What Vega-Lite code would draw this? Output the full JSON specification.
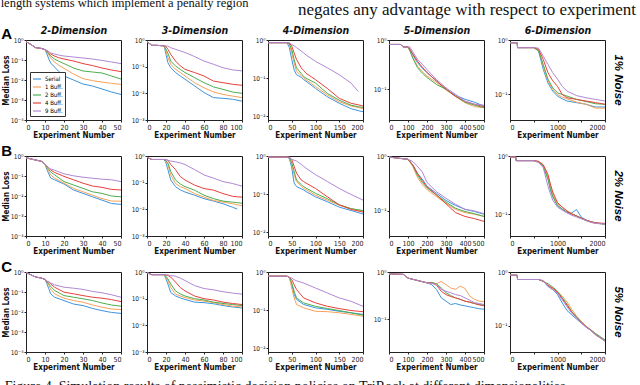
{
"$schema": "https://vega.github.io/schema/vega-lite/v6.json",
"padding": {"left": 0, "top": -3, "right": 1, "bottom": -8},
"datasets": {
"dA1": [
{"x":0,"S":0.832,"B1":0.832,"B2":0.832,"B4":0.832,"B9":0.832},
{"x":3,"S":0.562,"B1":0.562,"B2":0.562,"B4":0.562,"B9":0.562},
{"x":5,"S":0.417,"B1":0.417,"B2":0.417,"B4":0.417,"B9":0.417},
{"x":8,"S":0.38,"B1":0.38,"B2":0.38,"B4":0.38,"B9":0.38},
{"x":10,"S":0.331,"B1":0.331,"B2":0.331,"B4":0.331,"B9":0.331},
{"x":11,"S":0.2,"B1":0.251,"B2":0.263,"B4":0.282,"B9":0.302},
{"x":12,"S":0.112,"B1":0.178,"B2":0.209,"B4":0.24,"B9":0.263},
{"x":13,"S":0.0708,"B1":0.126,"B2":0.158,"B4":0.2,"B9":0.224},
{"x":15,"S":0.0447,"B1":0.0794,"B2":0.112,"B4":0.158,"B9":0.2},
{"x":17,"S":0.0282,"B1":0.0562,"B2":0.0891,"B4":0.132,"B9":0.178},
{"x":20,"S":0.0158,"B1":0.038,"B2":0.0661,"B4":0.112,"B9":0.158},
{"x":25,"S":0.01,"B1":0.02,"B2":0.0398,"B4":0.0891,"B9":0.141},
{"x":30,"S":0.0063,"B1":0.0117,"B2":0.0282,"B4":0.0661,"B9":0.126},
{"x":35,"S":0.005,"B1":0.0093,"B2":0.0251,"B4":0.0525,"B9":0.112},
{"x":40,"S":0.00355,"B1":0.0079,"B2":0.0224,"B4":0.0398,"B9":0.0955},
{"x":45,"S":0.00251,"B1":0.0068,"B2":0.0158,"B4":0.0316,"B9":0.0794},
{"x":50,"S":0.0019,"B1":0.006,"B2":0.0112,"B4":0.0263,"B9":0.0661}
],
"dA2": [
{"x":0,"S":0.871,"B1":0.871,"B2":0.871,"B4":0.871,"B9":0.871},
{"x":5,"S":0.631,"B1":0.631,"B2":0.631,"B4":0.631,"B9":0.631},
{"x":10,"S":0.631,"B1":0.631,"B2":0.631,"B4":0.631,"B9":0.631},
{"x":18,"S":0.603,"B1":0.603,"B2":0.603,"B4":0.603,"B9":0.603},
{"x":20,"S":0.288,"B1":0.389,"B2":0.447,"B4":0.562,"B9":0.603},
{"x":22,"S":0.141,"B1":0.219,"B2":0.316,"B4":0.447,"B9":0.589},
{"x":25,"S":0.0912,"B1":0.123,"B2":0.162,"B4":0.288,"B9":0.513},
{"x":30,"S":0.0603,"B1":0.0794,"B2":0.107,"B4":0.162,"B9":0.447},
{"x":35,"S":0.0447,"B1":0.0603,"B2":0.0794,"B4":0.107,"B9":0.389},
{"x":40,"S":0.0339,"B1":0.0447,"B2":0.0603,"B4":0.0794,"B9":0.339},
{"x":50,"S":0.0191,"B1":0.0251,"B2":0.0389,"B4":0.0603,"B9":0.24},
{"x":60,"S":0.0107,"B1":0.0162,"B2":0.0251,"B4":0.0447,"B9":0.162},
{"x":70,"S":0.0069,"B1":0.0112,"B2":0.0174,"B4":0.0288,"B9":0.123},
{"x":80,"S":0.0065,"B1":0.0091,"B2":0.0141,"B4":0.0251,"B9":0.0912},
{"x":90,"S":0.006,"B1":0.0079,"B2":0.0112,"B4":0.0219,"B9":0.0759},
{"x":100,"S":0.0051,"B1":0.0069,"B2":0.01,"B4":0.02,"B9":0.0692}
],
"dA3": [
{"x":0,"S":0.851,"B1":0.851,"B2":0.851,"B4":0.851,"B9":0.851},
{"x":20,"S":0.851,"B1":0.851,"B2":0.851,"B4":0.851,"B9":0.851},
{"x":40,"S":0.851,"B1":0.851,"B2":0.851,"B4":0.851,"B9":0.851},
{"x":45,"S":0.631,"B1":0.759,"B2":0.794,"B4":0.832,"B9":0.851},
{"x":50,"S":0.309,"B1":0.457,"B2":0.562,"B4":0.692,"B9":0.759},
{"x":55,"S":0.166,"B1":0.251,"B2":0.309,"B4":0.457,"B9":0.708},
{"x":60,"S":0.123,"B1":0.151,"B2":0.186,"B4":0.309,"B9":0.631},
{"x":70,"S":0.105,"B1":0.117,"B2":0.132,"B4":0.186,"B9":0.513},
{"x":75,"S":0.0912,"B1":0.1,"B2":0.11,"B4":0.158,"B9":0.457},
{"x":80,"S":0.0832,"B1":0.0912,"B2":0.1,"B4":0.135,"B9":0.407},
{"x":100,"S":0.0537,"B1":0.0603,"B2":0.0741,"B4":0.0912,"B9":0.275},
{"x":125,"S":0.0324,"B1":0.0363,"B2":0.0398,"B4":0.0537,"B9":0.186},
{"x":150,"S":0.0219,"B1":0.024,"B2":0.0263,"B4":0.0295,"B9":0.123},
{"x":175,"S":0.0158,"B1":0.0186,"B2":0.0195,"B4":0.0219,"B9":0.0741},
{"x":190,"S":0.0141,"B1":0.017,"B2":0.0178,"B4":0.02,"B9":0.0447},
{"x":200,"S":0.0132,"B1":0.0158,"B2":0.017,"B4":0.0186,"B9":null}
],
"dA4": [
{"x":0,"S":0.813,"B1":0.813,"B2":0.813,"B4":0.813,"B9":0.813},
{"x":60,"S":0.813,"B1":0.813,"B2":0.813,"B4":0.813,"B9":0.813},
{"x":75,"S":0.724,"B1":0.724,"B2":0.724,"B4":0.724,"B9":0.724},
{"x":100,"S":0.724,"B1":0.724,"B2":0.724,"B4":0.724,"B9":0.724},
{"x":110,"S":0.646,"B1":0.603,"B2":0.603,"B4":0.646,"B9":0.724},
{"x":125,"S":0.501,"B1":0.447,"B2":0.427,"B4":0.525,"B9":0.575},
{"x":150,"S":0.347,"B1":0.295,"B2":0.275,"B4":0.372,"B9":0.407},
{"x":175,"S":0.269,"B1":0.229,"B2":0.214,"B4":0.282,"B9":0.324},
{"x":200,"S":0.219,"B1":0.186,"B2":0.174,"B4":0.219,"B9":0.251},
{"x":250,"S":0.148,"B1":0.138,"B2":0.126,"B4":0.148,"B9":0.158},
{"x":300,"S":0.1,"B1":0.0977,"B2":0.1,"B4":0.102,"B9":0.107},
{"x":350,"S":0.0759,"B1":0.0724,"B2":0.0724,"B4":0.0724,"B9":0.0794},
{"x":400,"S":0.0631,"B1":0.0537,"B2":0.055,"B4":0.0575,"B9":0.0575},
{"x":450,"S":0.055,"B1":0.0447,"B2":0.0479,"B4":0.0501,"B9":0.0501},
{"x":500,"S":0.0457,"B1":0.0427,"B2":0.0427,"B4":0.0447,"B9":0.0479}
],
"dA5": [
{"x":0,"S":0.891,"B1":0.891,"B2":0.891,"B4":0.891,"B9":0.891},
{"x":150,"S":0.891,"B1":0.891,"B2":0.891,"B4":0.891,"B9":0.891},
{"x":160,"S":0.724,"B1":0.724,"B2":0.724,"B4":0.724,"B9":0.724},
{"x":500,"S":0.724,"B1":0.724,"B2":0.724,"B4":0.724,"B9":0.724},
{"x":600,"S":0.631,"B1":0.676,"B2":0.631,"B4":0.676,"B9":0.708},
{"x":700,"S":0.288,"B1":0.331,"B2":0.355,"B4":0.437,"B9":0.501},
{"x":800,"S":0.162,"B1":0.178,"B2":0.191,"B4":0.251,"B9":0.355},
{"x":900,"S":0.115,"B1":0.123,"B2":0.132,"B4":0.178,"B9":0.251},
{"x":1000,"S":0.0933,"B1":0.1,"B2":0.107,"B4":0.141,"B9":0.191},
{"x":1100,"S":0.0832,"B1":0.0891,"B2":0.1,"B4":0.1,"B9":0.141},
{"x":1200,"S":0.0759,"B1":0.0832,"B2":0.0933,"B4":0.0871,"B9":0.115},
{"x":1400,"S":0.0708,"B1":0.0724,"B2":0.0813,"B4":0.0813,"B9":0.0955},
{"x":1600,"S":0.0661,"B1":0.0661,"B2":0.0741,"B4":0.0759,"B9":0.0871},
{"x":1800,"S":0.0589,"B1":0.0562,"B2":0.0676,"B4":0.0708,"B9":0.0813},
{"x":2000,"S":0.0589,"B1":0.0562,"B2":0.0661,"B4":0.0661,"B9":0.0759}
],
"dB1": [
{"x":0,"S":0.813,"B1":0.813,"B2":0.813,"B4":0.813,"B9":0.813},
{"x":5,"S":0.631,"B1":0.631,"B2":0.631,"B4":0.631,"B9":0.631},
{"x":8,"S":0.55,"B1":0.55,"B2":0.55,"B4":0.55,"B9":0.55},
{"x":10,"S":0.398,"B1":0.398,"B2":0.398,"B4":0.398,"B9":0.398},
{"x":11,"S":0.209,"B1":0.251,"B2":0.282,"B4":0.316,"B9":0.316},
{"x":12,"S":0.126,"B1":0.17,"B2":0.209,"B4":0.251,"B9":0.251},
{"x":13,"S":0.0794,"B1":0.112,"B2":0.158,"B4":0.2,"B9":0.224},
{"x":15,"S":0.0646,"B1":0.0794,"B2":0.115,"B4":0.151,"B9":0.195},
{"x":20,"S":0.0398,"B1":0.0437,"B2":0.0525,"B4":0.0955,"B9":0.129},
{"x":25,"S":0.02,"B1":0.024,"B2":0.0355,"B4":0.0646,"B9":0.102},
{"x":30,"S":0.0135,"B1":0.0162,"B2":0.024,"B4":0.0437,"B9":0.0871},
{"x":35,"S":0.0091,"B1":0.011,"B2":0.0162,"B4":0.0316,"B9":0.0776},
{"x":40,"S":0.0062,"B1":0.0074,"B2":0.0135,"B4":0.0269,"B9":0.0692},
{"x":45,"S":0.0042,"B1":0.0056,"B2":0.01,"B4":0.0214,"B9":0.0646},
{"x":50,"S":0.0038,"B1":0.0055,"B2":0.0091,"B4":0.02,"B9":0.0525}
],
"dB2": [
{"x":0,"S":0.891,"B1":0.891,"B2":0.891,"B4":0.891,"B9":0.891},
{"x":5,"S":0.741,"B1":0.741,"B2":0.741,"B4":0.741,"B9":0.741},
{"x":18,"S":0.741,"B1":0.741,"B2":0.741,"B4":0.741,"B9":0.741},
{"x":20,"S":0.55,"B1":0.631,"B2":0.661,"B4":0.724,"B9":0.724},
{"x":22,"S":0.309,"B1":0.479,"B2":0.55,"B4":0.692,"B9":0.692},
{"x":25,"S":0.126,"B1":0.195,"B2":0.263,"B4":0.479,"B9":0.646},
{"x":30,"S":0.0708,"B1":0.0933,"B2":0.126,"B4":0.309,"B9":0.603},
{"x":35,"S":0.0537,"B1":0.0708,"B2":0.0891,"B4":0.17,"B9":0.55},
{"x":40,"S":0.0447,"B1":0.0603,"B2":0.0708,"B4":0.126,"B9":0.479},
{"x":50,"S":0.0339,"B1":0.0389,"B2":0.0525,"B4":0.0813,"B9":0.309},
{"x":60,"S":0.0251,"B1":0.0288,"B2":0.0339,"B4":0.0603,"B9":0.195},
{"x":70,"S":0.0204,"B1":0.0214,"B2":0.0251,"B4":0.0525,"B9":0.148},
{"x":80,"S":0.0162,"B1":0.0186,"B2":0.0204,"B4":0.0389,"B9":0.11},
{"x":90,"S":0.012,"B1":0.0162,"B2":0.0186,"B4":0.0309,"B9":0.0933},
{"x":95,"S":0.0102,"B1":0.0148,"B2":0.0178,"B4":0.0295,"B9":0.0832},
{"x":100,"S":null,"B1":0.0138,"B2":0.017,"B4":0.0288,"B9":0.0741}
],
"dB3": [
{"x":0,"S":0.933,"B1":0.933,"B2":0.933,"B4":0.933,"B9":0.933},
{"x":40,"S":0.933,"B1":0.933,"B2":0.933,"B4":0.933,"B9":0.933},
{"x":45,"S":0.851,"B1":0.891,"B2":0.912,"B4":0.933,"B9":0.933},
{"x":50,"S":0.49,"B1":0.603,"B2":0.661,"B4":0.813,"B9":0.813},
{"x":55,"S":0.195,"B1":0.324,"B2":0.398,"B4":0.537,"B9":0.776},
{"x":60,"S":0.158,"B1":0.214,"B2":0.234,"B4":0.355,"B9":0.741},
{"x":70,"S":0.138,"B1":0.162,"B2":0.178,"B4":0.234,"B9":0.603},
{"x":75,"S":0.129,"B1":0.141,"B2":0.158,"B4":0.214,"B9":0.537},
{"x":80,"S":0.117,"B1":0.132,"B2":0.145,"B4":0.195,"B9":0.479},
{"x":100,"S":0.0851,"B1":0.0933,"B2":0.105,"B4":0.141,"B9":0.324},
{"x":125,"S":0.0631,"B1":0.0692,"B2":0.0759,"B4":0.0851,"B9":0.214},
{"x":150,"S":0.0457,"B1":0.0513,"B2":0.0525,"B4":0.0525,"B9":0.141},
{"x":175,"S":0.0372,"B1":0.0417,"B2":0.0417,"B4":0.0398,"B9":0.0977},
{"x":200,"S":0.0302,"B1":0.0355,"B2":0.0372,"B4":0.0339,"B9":0.07}
],
"dB4": [
{"x":0,"S":0.955,"B1":0.955,"B2":0.955,"B4":0.955,"B9":0.955},
{"x":100,"S":0.871,"B1":0.871,"B2":0.871,"B4":0.871,"B9":0.871},
{"x":125,"S":0.692,"B1":0.646,"B2":0.676,"B4":0.692,"B9":0.794},
{"x":150,"S":0.479,"B1":0.407,"B2":0.447,"B4":0.479,"B9":0.646},
{"x":175,"S":0.38,"B1":0.302,"B2":0.331,"B4":0.355,"B9":0.513},
{"x":200,"S":0.282,"B1":0.245,"B2":0.263,"B4":0.275,"B9":0.331},
{"x":250,"S":0.209,"B1":0.182,"B2":0.195,"B4":0.195,"B9":0.224},
{"x":300,"S":0.155,"B1":0.138,"B2":0.145,"B4":0.135,"B9":0.17},
{"x":350,"S":0.126,"B1":0.107,"B2":0.112,"B4":0.0933,"B9":0.132},
{"x":400,"S":0.107,"B1":0.0933,"B2":0.0977,"B4":0.0794,"B9":0.107},
{"x":450,"S":0.0977,"B1":0.0871,"B2":0.0891,"B4":0.0724,"B9":0.1},
{"x":500,"S":0.0871,"B1":0.0794,"B2":0.0794,"B4":0.0646,"B9":0.0891}
],
"dB5": [
{"x":0,"S":0.955,"B1":0.955,"B2":0.955,"B4":0.955,"B9":0.955},
{"x":120,"S":0.955,"B1":0.955,"B2":0.955,"B4":0.955,"B9":0.955},
{"x":130,"S":0.832,"B1":0.832,"B2":0.832,"B4":0.832,"B9":0.832},
{"x":500,"S":0.832,"B1":0.832,"B2":0.832,"B4":0.832,"B9":0.832},
{"x":600,"S":0.794,"B1":0.776,"B2":0.794,"B4":0.813,"B9":0.776},
{"x":700,"S":0.661,"B1":0.692,"B2":0.661,"B4":0.708,"B9":0.631},
{"x":800,"S":0.407,"B1":0.437,"B2":0.398,"B4":0.479,"B9":0.302},
{"x":850,"S":0.263,"B1":0.302,"B2":0.275,"B4":0.331,"B9":0.224},
{"x":900,"S":0.2,"B1":0.219,"B2":0.2,"B4":0.24,"B9":0.174},
{"x":1000,"S":0.141,"B1":0.151,"B2":0.141,"B4":0.158,"B9":0.132},
{"x":1100,"S":0.123,"B1":0.132,"B2":0.12,"B4":0.132,"B9":0.117},
{"x":1200,"S":0.107,"B1":0.115,"B2":0.107,"B4":0.112,"B9":0.105},
{"x":1300,"S":0.105,"B1":0.102,"B2":0.1,"B4":0.1,"B9":0.0955},
{"x":1400,"S":0.12,"B1":0.0933,"B2":0.0933,"B4":0.0933,"B9":0.0891},
{"x":1500,"S":0.0891,"B1":0.0851,"B2":0.0851,"B4":0.0851,"B9":0.0832},
{"x":1600,"S":0.0794,"B1":0.0776,"B2":0.0776,"B4":0.0794,"B9":0.0776},
{"x":1700,"S":0.0741,"B1":0.0724,"B2":0.0741,"B4":0.0741,"B9":0.0724},
{"x":1800,"S":0.0708,"B1":0.0692,"B2":0.0708,"B4":0.0708,"B9":0.0692},
{"x":2000,"S":0.0661,"B1":0.0676,"B2":0.0676,"B4":0.0692,"B9":0.0676}
],
"dC1": [
{"x":0,"S":0.955,"B1":0.955,"B2":0.955,"B4":0.955,"B9":0.955},
{"x":5,"S":0.562,"B1":0.562,"B2":0.562,"B4":0.562,"B9":0.562},
{"x":8,"S":0.501,"B1":0.501,"B2":0.501,"B4":0.501,"B9":0.501},
{"x":10,"S":0.427,"B1":0.427,"B2":0.427,"B4":0.427,"B9":0.427},
{"x":11,"S":0.257,"B1":0.302,"B2":0.316,"B4":0.331,"B9":0.347},
{"x":12,"S":0.145,"B1":0.214,"B2":0.257,"B4":0.316,"B9":0.331},
{"x":13,"S":0.0813,"B1":0.141,"B2":0.191,"B4":0.251,"B9":0.282},
{"x":15,"S":0.055,"B1":0.0813,"B2":0.12,"B4":0.174,"B9":0.229},
{"x":20,"S":0.0372,"B1":0.049,"B2":0.0661,"B4":0.0977,"B9":0.174},
{"x":25,"S":0.0251,"B1":0.0372,"B2":0.055,"B4":0.0813,"B9":0.155},
{"x":30,"S":0.0209,"B1":0.0309,"B2":0.0457,"B4":0.0661,"B9":0.135},
{"x":35,"S":0.0151,"B1":0.0224,"B2":0.0372,"B4":0.055,"B9":0.107},
{"x":40,"S":0.0117,"B1":0.0174,"B2":0.0282,"B4":0.049,"B9":0.0912},
{"x":45,"S":0.0095,"B1":0.0141,"B2":0.0224,"B4":0.0417,"B9":0.0724},
{"x":50,"S":0.0085,"B1":0.0132,"B2":0.0195,"B4":0.0331,"B9":0.055}
],
"dC2": [
{"x":0,"S":0.955,"B1":0.955,"B2":0.955,"B4":0.955,"B9":0.955},
{"x":5,"S":0.794,"B1":0.794,"B2":0.794,"B4":0.794,"B9":0.794},
{"x":18,"S":0.794,"B1":0.794,"B2":0.794,"B4":0.794,"B9":0.794},
{"x":20,"S":0.55,"B1":0.631,"B2":0.692,"B4":0.776,"B9":0.794},
{"x":22,"S":0.355,"B1":0.479,"B2":0.55,"B4":0.741,"B9":0.776},
{"x":25,"S":0.17,"B1":0.263,"B2":0.355,"B4":0.646,"B9":0.741},
{"x":30,"S":0.126,"B1":0.148,"B2":0.195,"B4":0.417,"B9":0.692},
{"x":35,"S":0.107,"B1":0.126,"B2":0.151,"B4":0.263,"B9":0.589},
{"x":40,"S":0.0933,"B1":0.11,"B2":0.126,"B4":0.195,"B9":0.479},
{"x":50,"S":0.0741,"B1":0.0891,"B2":0.1,"B4":0.126,"B9":0.309},
{"x":60,"S":0.0708,"B1":0.0813,"B2":0.0891,"B4":0.1,"B9":0.24},
{"x":70,"S":0.0646,"B1":0.0708,"B2":0.0741,"B4":0.0891,"B9":0.214},
{"x":80,"S":0.055,"B1":0.0603,"B2":0.0661,"B4":0.0741,"B9":0.182},
{"x":90,"S":0.049,"B1":0.0525,"B2":0.0603,"B4":0.0661,"B9":0.162},
{"x":100,"S":0.0447,"B1":0.049,"B2":0.055,"B4":0.0603,"B9":0.148}
],
"dC3": [
{"x":0,"S":0.776,"B1":0.776,"B2":0.776,"B4":0.776,"B9":0.776},
{"x":40,"S":0.776,"B1":0.776,"B2":0.776,"B4":0.776,"B9":0.776},
{"x":45,"S":0.724,"B1":0.724,"B2":0.724,"B4":0.724,"B9":0.724},
{"x":50,"S":0.468,"B1":0.38,"B2":0.513,"B4":0.631,"B9":0.692},
{"x":55,"S":0.257,"B1":0.209,"B2":0.316,"B4":0.468,"B9":0.631},
{"x":60,"S":0.191,"B1":0.141,"B2":0.209,"B4":0.347,"B9":0.589},
{"x":75,"S":0.141,"B1":0.115,"B2":0.155,"B4":0.209,"B9":0.513},
{"x":100,"S":0.115,"B1":0.0933,"B2":0.126,"B4":0.155,"B9":0.38},
{"x":125,"S":0.105,"B1":0.0912,"B2":0.11,"B4":0.126,"B9":0.282},
{"x":150,"S":0.0933,"B1":0.0851,"B2":0.0977,"B4":0.11,"B9":0.209},
{"x":175,"S":0.0851,"B1":0.0776,"B2":0.0851,"B4":0.0977,"B9":0.17},
{"x":200,"S":0.0776,"B1":0.0692,"B2":0.0741,"B4":0.0912,"B9":0.126}
],
"dC4": [
{"x":0,"S":0.912,"B1":0.912,"B2":0.912,"B4":0.912,"B9":0.912},
{"x":75,"S":0.891,"B1":0.891,"B2":0.891,"B4":0.891,"B9":0.891},
{"x":100,"S":0.741,"B1":0.741,"B2":0.741,"B4":0.741,"B9":0.741},
{"x":150,"S":0.661,"B1":0.661,"B2":0.661,"B4":0.661,"B9":0.661},
{"x":200,"S":0.589,"B1":0.589,"B2":0.589,"B4":0.589,"B9":0.589},
{"x":225,"S":0.537,"B1":0.575,"B2":0.603,"B4":0.589,"B9":0.575},
{"x":250,"S":0.427,"B1":0.562,"B2":0.562,"B4":0.525,"B9":0.537},
{"x":275,"S":0.282,"B1":0.631,"B2":0.457,"B4":0.389,"B9":0.427},
{"x":300,"S":0.24,"B1":0.537,"B2":0.363,"B4":0.331,"B9":0.389},
{"x":325,"S":0.204,"B1":0.457,"B2":0.316,"B4":0.302,"B9":0.363},
{"x":350,"S":0.214,"B1":0.427,"B2":0.282,"B4":0.282,"B9":0.331},
{"x":375,"S":0.2,"B1":0.501,"B2":0.263,"B4":0.263,"B9":0.316},
{"x":400,"S":0.191,"B1":0.447,"B2":0.24,"B4":0.24,"B9":0.282},
{"x":425,"S":0.182,"B1":0.309,"B2":0.229,"B4":0.229,"B9":0.251},
{"x":450,"S":0.174,"B1":0.263,"B2":0.214,"B4":0.214,"B9":0.224},
{"x":475,"S":0.166,"B1":0.24,"B2":0.204,"B4":0.2,"B9":0.214},
{"x":500,"S":0.162,"B1":0.234,"B2":0.2,"B4":0.191,"B9":0.204}
],
"dC5": [
{"x":0,"S":0.871,"B1":0.871,"B2":0.871,"B4":0.871,"B9":0.871},
{"x":150,"S":0.871,"B1":0.871,"B2":0.871,"B4":0.871,"B9":0.871},
{"x":160,"S":0.724,"B1":0.724,"B2":0.724,"B4":0.724,"B9":0.724},
{"x":600,"S":0.724,"B1":0.724,"B2":0.724,"B4":0.724,"B9":0.724},
{"x":700,"S":0.676,"B1":0.676,"B2":0.661,"B4":0.676,"B9":0.692},
{"x":800,"S":0.537,"B1":0.562,"B2":0.603,"B4":0.562,"B9":0.537},
{"x":900,"S":0.468,"B1":0.49,"B2":0.525,"B4":0.501,"B9":0.468},
{"x":1000,"S":0.38,"B1":0.427,"B2":0.437,"B4":0.417,"B9":0.398},
{"x":1100,"S":0.263,"B1":0.355,"B2":0.331,"B4":0.316,"B9":0.302},
{"x":1200,"S":0.191,"B1":0.275,"B2":0.251,"B4":0.24,"B9":0.224},
{"x":1300,"S":0.158,"B1":0.2,"B2":0.182,"B4":0.178,"B9":0.17},
{"x":1400,"S":0.132,"B1":0.151,"B2":0.145,"B4":0.141,"B9":0.138},
{"x":1500,"S":0.112,"B1":0.12,"B2":0.117,"B4":0.115,"B9":0.112},
{"x":1600,"S":0.0933,"B1":0.0977,"B2":0.0955,"B4":0.0955,"B9":0.0933},
{"x":1700,"S":0.0813,"B1":0.0832,"B2":0.0832,"B4":0.0813,"B9":0.0813},
{"x":1800,"S":0.0676,"B1":0.0708,"B2":0.0708,"B4":0.0676,"B9":0.0676},
{"x":1900,"S":0.0589,"B1":0.0617,"B2":0.0617,"B4":0.0589,"B9":0.0589},
{"x":2000,"S":0.0513,"B1":0.0525,"B2":0.0537,"B4":0.0513,"B9":0.0513}
]
},
"title": {"text": "Figure 4. Simulation results of pessimistic decision policies on TriRock at different dimensionalities.", "orient": "bottom", "anchor": "start", "font": "Liberation Serif", "fontSize": 14, "fontWeight": "normal", "color": "#111", "offset": 8, "dx": 4},
"vconcat": [{
"title": {"text": "length systems which implement a penalty region", "anchor": "start", "font": "Liberation Serif", "fontSize": 12.5, "fontWeight": "normal", "color": "#111", "offset": -9, "dx": 0},
"vconcat": [{
"title": {"text": "negates any advantage with respect to experiment", "anchor": "end", "font": "Liberation Serif", "fontSize": 17, "fontWeight": "normal", "color": "#111", "offset": 6, "dx": 12},
"columns": 5,
"spacing": {"row": 36, "column": 26},
"bounds": "flush",
"resolve": {"scale": {"x": "independent", "y": "independent", "color": "independent"}, "legend": {"color": "independent"}},
"concat": [
{"width":95,"height":80,"data":{"name":"dA1"},
 "title":{"text":"A","anchor":"start","frame":"bounds","font":"Liberation Sans","fontSize":15,"fontWeight":"bold","dx":-1,"dy":17,"offset":0},
 "layer":[
  {"transform":[{"fold":["S","B1","B2","B4","B9"],"as":["s","loss"]},{"filter":"isValid(datum.loss)"}],
   "mark":{"type":"line","strokeWidth":1},
   "encoding":{
    "x":{"field":"x","type":"quantitative","scale":{"domain":[0,50],"nice":false},"axis":{"values":[0,10,20,30,40,50],"format":"d","title":"Experiment Number"}},
    "y":{"field":"loss","type":"quantitative","scale":{"type":"log","domain":[0.0001,1],"nice":false},"axis":{"values":[1,0.1,0.01,0.001,0.0001],"labelExpr":"datum.value > 0.5 ? '10⁰' : datum.value > 0.05 ? '10⁻¹' : datum.value > 0.005 ? '10⁻²' : datum.value > 0.0005 ? '10⁻³' : '10⁻⁴'","title":"Median Loss"}},
    "color":{"field":"s","type":"nominal","scale":{"domain":["S","B1","B2","B4","B9"],"range":["#3d94dc","#f6a25a","#4caf50","#e8413c","#b088d4"]},
     "legend":{"title":null,"orient":"bottom-left","offset":4,"strokeColor":"#333","fillColor":"white","padding":2,"labelFontSize":6,"labelFont":"'DejaVu Sans Condensed', 'Liberation Sans Narrow', 'Liberation Sans', sans-serif","symbolType":"stroke","symbolSize":64,"symbolStrokeWidth":1.2,"rowPadding":-1,"labelOffset":3,"labelExpr":"datum.label=='S'?'Serial':datum.label=='B1'?'1 Buff.':datum.label=='B2'?'2 Buff.':datum.label=='B4'?'4 Buff.':'9 Buff.'"}}
   }},
  {"mark":{"type":"rule","opacity":0},"encoding":{"x":{"field":"x","type":"quantitative","axis":{"orient":"top","title":"2-Dimension","labels":false,"ticks":false,"domain":false,"titlePadding":5,"titleFontSize":10.5,"titleFontStyle":"italic","titleFontWeight":"bold"}}}}
 ],
 "resolve":{"axis":{"x":"independent"}}},
{"width":95,"height":80,"data":{"name":"dA2"},
 "layer":[
  {"transform":[{"fold":["S","B1","B2","B4","B9"],"as":["s","loss"]},{"filter":"isValid(datum.loss)"}],
   "mark":{"type":"line","strokeWidth":1},
   "encoding":{
    "x":{"field":"x","type":"quantitative","scale":{"domain":[0,100],"nice":false},"axis":{"values":[0,20,40,60,80,100],"format":"d","title":"Experiment Number"}},
    "y":{"field":"loss","type":"quantitative","scale":{"type":"log","domain":[0.001,1],"nice":false},"axis":{"values":[1,0.1,0.01,0.001],"labelExpr":"datum.value > 0.5 ? '10⁰' : datum.value > 0.05 ? '10⁻¹' : datum.value > 0.005 ? '10⁻²' : '10⁻³'","title":null}},
    "color":{"field":"s","type":"nominal","scale":{"domain":["S","B1","B2","B4","B9"],"range":["#3d94dc","#f6a25a","#4caf50","#e8413c","#b088d4"]},"legend":null}
   }},
  {"mark":{"type":"rule","opacity":0},"encoding":{"x":{"field":"x","type":"quantitative","axis":{"orient":"top","title":"3-Dimension","labels":false,"ticks":false,"domain":false,"titlePadding":5,"titleFontSize":10.5,"titleFontStyle":"italic","titleFontWeight":"bold"}}}}
 ],
 "resolve":{"axis":{"x":"independent"}}},
{"width":95,"height":80,"data":{"name":"dA3"},
 "layer":[
  {"transform":[{"fold":["S","B1","B2","B4","B9"],"as":["s","loss"]},{"filter":"isValid(datum.loss)"}],
   "mark":{"type":"line","strokeWidth":1},
   "encoding":{
    "x":{"field":"x","type":"quantitative","scale":{"domain":[0,200],"nice":false},"axis":{"values":[0,50,100,150,200],"format":"d","title":"Experiment Number"}},
    "y":{"field":"loss","type":"quantitative","scale":{"type":"log","domain":[0.008,1],"nice":false},"axis":{"values":[1,0.1,0.01],"labelExpr":"datum.value > 0.5 ? '10⁰' : datum.value > 0.05 ? '10⁻¹' : '10⁻²'","title":null}},
    "color":{"field":"s","type":"nominal","scale":{"domain":["S","B1","B2","B4","B9"],"range":["#3d94dc","#f6a25a","#4caf50","#e8413c","#b088d4"]},"legend":null}
   }},
  {"mark":{"type":"rule","opacity":0},"encoding":{"x":{"field":"x","type":"quantitative","axis":{"orient":"top","title":"4-Dimension","labels":false,"ticks":false,"domain":false,"titlePadding":5,"titleFontSize":10.5,"titleFontStyle":"italic","titleFontWeight":"bold"}}}}
 ],
 "resolve":{"axis":{"x":"independent"}}},
{"width":95,"height":80,"data":{"name":"dA4"},
 "layer":[
  {"transform":[{"fold":["S","B1","B2","B4","B9"],"as":["s","loss"]},{"filter":"isValid(datum.loss)"}],
   "mark":{"type":"line","strokeWidth":1},
   "encoding":{
    "x":{"field":"x","type":"quantitative","scale":{"domain":[0,500],"nice":false},"axis":{"values":[0,100,200,300,400,500],"format":"d","title":"Experiment Number"}},
    "y":{"field":"loss","type":"quantitative","scale":{"type":"log","domain":[0.024,1],"nice":false},"axis":{"values":[1,0.1],"labelExpr":"datum.value > 0.5 ? '10⁰' : '10⁻¹'","title":null}},
    "color":{"field":"s","type":"nominal","scale":{"domain":["S","B1","B2","B4","B9"],"range":["#3d94dc","#f6a25a","#4caf50","#e8413c","#b088d4"]},"legend":null}
   }},
  {"mark":{"type":"rule","opacity":0},"encoding":{"x":{"field":"x","type":"quantitative","axis":{"orient":"top","title":"5-Dimension","labels":false,"ticks":false,"domain":false,"titlePadding":5,"titleFontSize":10.5,"titleFontStyle":"italic","titleFontWeight":"bold"}}}}
 ],
 "resolve":{"axis":{"x":"independent"}}},
{"width":95,"height":80,"data":{"name":"dA5"},
 "title":{"text":"1% Noise","orient":"right","anchor":"middle","font":"Liberation Sans","fontSize":11.5,"fontWeight":"bold","fontStyle":"italic","offset":5},
 "layer":[
  {"transform":[{"fold":["S","B1","B2","B4","B9"],"as":["s","loss"]},{"filter":"isValid(datum.loss)"}],
   "mark":{"type":"line","strokeWidth":1},
   "encoding":{
    "x":{"field":"x","type":"quantitative","scale":{"domain":[0,2000],"nice":false},"axis":{"values":[0,500,1000,1500,2000],"format":"d","title":"Experiment Number"}},
    "y":{"field":"loss","type":"quantitative","scale":{"type":"log","domain":[0.034,1],"nice":false},"axis":{"values":[1,0.1],"labelExpr":"datum.value > 0.5 ? '10⁰' : '10⁻¹'","title":null}},
    "color":{"field":"s","type":"nominal","scale":{"domain":["S","B1","B2","B4","B9"],"range":["#3d94dc","#f6a25a","#4caf50","#e8413c","#b088d4"]},"legend":null}
   }},
  {"mark":{"type":"rule","opacity":0},"encoding":{"x":{"field":"x","type":"quantitative","axis":{"orient":"top","title":"6-Dimension","labels":false,"ticks":false,"domain":false,"titlePadding":5,"titleFontSize":10.5,"titleFontStyle":"italic","titleFontWeight":"bold"}}}}
 ],
 "resolve":{"axis":{"x":"independent"}}},
{"width":95,"height":80,"data":{"name":"dB1"},
 "title":{"text":"B","anchor":"start","frame":"bounds","font":"Liberation Sans","fontSize":15,"fontWeight":"bold","dx":-1,"dy":6,"offset":0},
 "transform":[{"fold":["S","B1","B2","B4","B9"],"as":["s","loss"]},{"filter":"isValid(datum.loss)"}],
 "mark":{"type":"line","strokeWidth":1},
 "encoding":{
  "x":{"field":"x","type":"quantitative","scale":{"domain":[0,50],"nice":false},"axis":{"values":[0,10,20,30,40,50],"format":"d","title":"Experiment Number"}},
  "y":{"field":"loss","type":"quantitative","scale":{"type":"log","domain":[0.0001,1],"nice":false},"axis":{"values":[1,0.1,0.01,0.001,0.0001],"labelExpr":"datum.value > 0.5 ? '10⁰' : datum.value > 0.05 ? '10⁻¹' : datum.value > 0.005 ? '10⁻²' : datum.value > 0.0005 ? '10⁻³' : '10⁻⁴'","title":"Median Loss"}},
  "color":{"field":"s","type":"nominal","scale":{"domain":["S","B1","B2","B4","B9"],"range":["#3d94dc","#f6a25a","#4caf50","#e8413c","#b088d4"]},"legend":null}
 }},
{"width":95,"height":80,"data":{"name":"dB2"},
 "transform":[{"fold":["S","B1","B2","B4","B9"],"as":["s","loss"]},{"filter":"isValid(datum.loss)"}],
 "mark":{"type":"line","strokeWidth":1},
 "encoding":{
  "x":{"field":"x","type":"quantitative","scale":{"domain":[0,100],"nice":false},"axis":{"values":[0,20,40,60,80,100],"format":"d","title":"Experiment Number"}},
  "y":{"field":"loss","type":"quantitative","scale":{"type":"log","domain":[0.001,1],"nice":false},"axis":{"values":[1,0.1,0.01,0.001],"labelExpr":"datum.value > 0.5 ? '10⁰' : datum.value > 0.05 ? '10⁻¹' : datum.value > 0.005 ? '10⁻²' : '10⁻³'","title":null}},
  "color":{"field":"s","type":"nominal","scale":{"domain":["S","B1","B2","B4","B9"],"range":["#3d94dc","#f6a25a","#4caf50","#e8413c","#b088d4"]},"legend":null}
 }},
{"width":95,"height":80,"data":{"name":"dB3"},
 "transform":[{"fold":["S","B1","B2","B4","B9"],"as":["s","loss"]},{"filter":"isValid(datum.loss)"}],
 "mark":{"type":"line","strokeWidth":1},
 "encoding":{
  "x":{"field":"x","type":"quantitative","scale":{"domain":[0,200],"nice":false},"axis":{"values":[0,50,100,150,200],"format":"d","title":"Experiment Number"}},
  "y":{"field":"loss","type":"quantitative","scale":{"type":"log","domain":[0.008,1],"nice":false},"axis":{"values":[1,0.1,0.01],"labelExpr":"datum.value > 0.5 ? '10⁰' : datum.value > 0.05 ? '10⁻¹' : '10⁻²'","title":null}},
  "color":{"field":"s","type":"nominal","scale":{"domain":["S","B1","B2","B4","B9"],"range":["#3d94dc","#f6a25a","#4caf50","#e8413c","#b088d4"]},"legend":null}
 }},
{"width":95,"height":80,"data":{"name":"dB4"},
 "transform":[{"fold":["S","B1","B2","B4","B9"],"as":["s","loss"]},{"filter":"isValid(datum.loss)"}],
 "mark":{"type":"line","strokeWidth":1},
 "encoding":{
  "x":{"field":"x","type":"quantitative","scale":{"domain":[0,500],"nice":false},"axis":{"values":[0,100,200,300,400,500],"format":"d","title":"Experiment Number"}},
  "y":{"field":"loss","type":"quantitative","scale":{"type":"log","domain":[0.035,1],"nice":false},"axis":{"values":[1,0.1],"labelExpr":"datum.value > 0.5 ? '10⁰' : '10⁻¹'","title":null}},
  "color":{"field":"s","type":"nominal","scale":{"domain":["S","B1","B2","B4","B9"],"range":["#3d94dc","#f6a25a","#4caf50","#e8413c","#b088d4"]},"legend":null}
 }},
{"width":95,"height":80,"data":{"name":"dB5"},
 "title":{"text":"2% Noise","orient":"right","anchor":"middle","font":"Liberation Sans","fontSize":11.5,"fontWeight":"bold","fontStyle":"italic","offset":5},
 "transform":[{"fold":["S","B1","B2","B4","B9"],"as":["s","loss"]},{"filter":"isValid(datum.loss)"}],
 "mark":{"type":"line","strokeWidth":1},
 "encoding":{
  "x":{"field":"x","type":"quantitative","scale":{"domain":[0,2000],"nice":false},"axis":{"values":[0,500,1000,1500,2000],"format":"d","title":"Experiment Number"}},
  "y":{"field":"loss","type":"quantitative","scale":{"type":"log","domain":[0.042,1],"nice":false},"axis":{"values":[1,0.1],"labelExpr":"datum.value > 0.5 ? '10⁰' : '10⁻¹'","title":null}},
  "color":{"field":"s","type":"nominal","scale":{"domain":["S","B1","B2","B4","B9"],"range":["#3d94dc","#f6a25a","#4caf50","#e8413c","#b088d4"]},"legend":null}
 }},
{"width":95,"height":80,"data":{"name":"dC1"},
 "title":{"text":"C","anchor":"start","frame":"bounds","font":"Liberation Sans","fontSize":15,"fontWeight":"bold","dx":-1,"dy":6,"offset":0},
 "transform":[{"fold":["S","B1","B2","B4","B9"],"as":["s","loss"]},{"filter":"isValid(datum.loss)"}],
 "mark":{"type":"line","strokeWidth":1},
 "encoding":{
  "x":{"field":"x","type":"quantitative","scale":{"domain":[0,50],"nice":false},"axis":{"values":[0,10,20,30,40,50],"format":"d","title":"Experiment Number"}},
  "y":{"field":"loss","type":"quantitative","scale":{"type":"log","domain":[0.0001,1],"nice":false},"axis":{"values":[1,0.1,0.01,0.001,0.0001],"labelExpr":"datum.value > 0.5 ? '10⁰' : datum.value > 0.05 ? '10⁻¹' : datum.value > 0.005 ? '10⁻²' : datum.value > 0.0005 ? '10⁻³' : '10⁻⁴'","title":"Median Loss"}},
  "color":{"field":"s","type":"nominal","scale":{"domain":["S","B1","B2","B4","B9"],"range":["#3d94dc","#f6a25a","#4caf50","#e8413c","#b088d4"]},"legend":null}
 }},
{"width":95,"height":80,"data":{"name":"dC2"},
 "transform":[{"fold":["S","B1","B2","B4","B9"],"as":["s","loss"]},{"filter":"isValid(datum.loss)"}],
 "mark":{"type":"line","strokeWidth":1},
 "encoding":{
  "x":{"field":"x","type":"quantitative","scale":{"domain":[0,100],"nice":false},"axis":{"values":[0,20,40,60,80,100],"format":"d","title":"Experiment Number"}},
  "y":{"field":"loss","type":"quantitative","scale":{"type":"log","domain":[0.001,1],"nice":false},"axis":{"values":[1,0.1,0.01,0.001],"labelExpr":"datum.value > 0.5 ? '10⁰' : datum.value > 0.05 ? '10⁻¹' : datum.value > 0.005 ? '10⁻²' : '10⁻³'","title":null}},
  "color":{"field":"s","type":"nominal","scale":{"domain":["S","B1","B2","B4","B9"],"range":["#3d94dc","#f6a25a","#4caf50","#e8413c","#b088d4"]},"legend":null}
 }},
{"width":95,"height":80,"data":{"name":"dC3"},
 "transform":[{"fold":["S","B1","B2","B4","B9"],"as":["s","loss"]},{"filter":"isValid(datum.loss)"}],
 "mark":{"type":"line","strokeWidth":1},
 "encoding":{
  "x":{"field":"x","type":"quantitative","scale":{"domain":[0,200],"nice":false},"axis":{"values":[0,50,100,150,200],"format":"d","title":"Experiment Number"}},
  "y":{"field":"loss","type":"quantitative","scale":{"type":"log","domain":[0.008,1],"nice":false},"axis":{"values":[1,0.1,0.01],"labelExpr":"datum.value > 0.5 ? '10⁰' : datum.value > 0.05 ? '10⁻¹' : '10⁻²'","title":null}},
  "color":{"field":"s","type":"nominal","scale":{"domain":["S","B1","B2","B4","B9"],"range":["#3d94dc","#f6a25a","#4caf50","#e8413c","#b088d4"]},"legend":null}
 }},
{"width":95,"height":80,"data":{"name":"dC4"},
 "transform":[{"fold":["S","B1","B2","B4","B9"],"as":["s","loss"]},{"filter":"isValid(datum.loss)"}],
 "mark":{"type":"line","strokeWidth":1},
 "encoding":{
  "x":{"field":"x","type":"quantitative","scale":{"domain":[0,500],"nice":false},"axis":{"values":[0,100,200,300,400,500],"format":"d","title":"Experiment Number"}},
  "y":{"field":"loss","type":"quantitative","scale":{"type":"log","domain":[0.02,1],"nice":false},"axis":{"values":[1,0.1],"labelExpr":"datum.value > 0.5 ? '10⁰' : '10⁻¹'","title":null}},
  "color":{"field":"s","type":"nominal","scale":{"domain":["S","B1","B2","B4","B9"],"range":["#3d94dc","#f6a25a","#4caf50","#e8413c","#b088d4"]},"legend":null}
 }},
{"width":95,"height":80,"data":{"name":"dC5"},
 "title":{"text":"5% Noise","orient":"right","anchor":"middle","font":"Liberation Sans","fontSize":11.5,"fontWeight":"bold","fontStyle":"italic","offset":5},
 "transform":[{"fold":["S","B1","B2","B4","B9"],"as":["s","loss"]},{"filter":"isValid(datum.loss)"}],
 "mark":{"type":"line","strokeWidth":1},
 "encoding":{
  "x":{"field":"x","type":"quantitative","scale":{"domain":[0,2000],"nice":false},"axis":{"values":[0,500,1000,1500,2000],"format":"d","title":"Experiment Number"}},
  "y":{"field":"loss","type":"quantitative","scale":{"type":"log","domain":[0.032,1],"nice":false},"axis":{"values":[1,0.1],"labelExpr":"datum.value > 0.5 ? '10⁰' : '10⁻¹'","title":null}},
  "color":{"field":"s","type":"nominal","scale":{"domain":["S","B1","B2","B4","B9"],"range":["#3d94dc","#f6a25a","#4caf50","#e8413c","#b088d4"]},"legend":null}
 }}
]
}]
}],
"config": {
 "font": "Liberation Sans",
 "background": "white",
 "view": {"stroke": "#1a1a1a", "strokeWidth": 1},
 "axis": {"grid": false, "labelFont": "'DejaVu Sans Condensed', 'Liberation Sans Narrow', 'Liberation Sans', sans-serif", "labelFontSize": 7, "labelColor": "#222", "titleFont": "'DejaVu Sans Condensed', 'Liberation Sans Narrow', 'Liberation Sans', sans-serif", "titleFontSize": 8, "titleFontWeight": "bold", "titleColor": "#111", "tickSize": 2, "tickColor": "#222", "domainColor": "#222", "labelPadding": 1},
 "axisX": {"titlePadding": 1},
 "axisY": {"titlePadding": 0, "labelPadding": 1, "labelFontSize": 6.5}
}
}
